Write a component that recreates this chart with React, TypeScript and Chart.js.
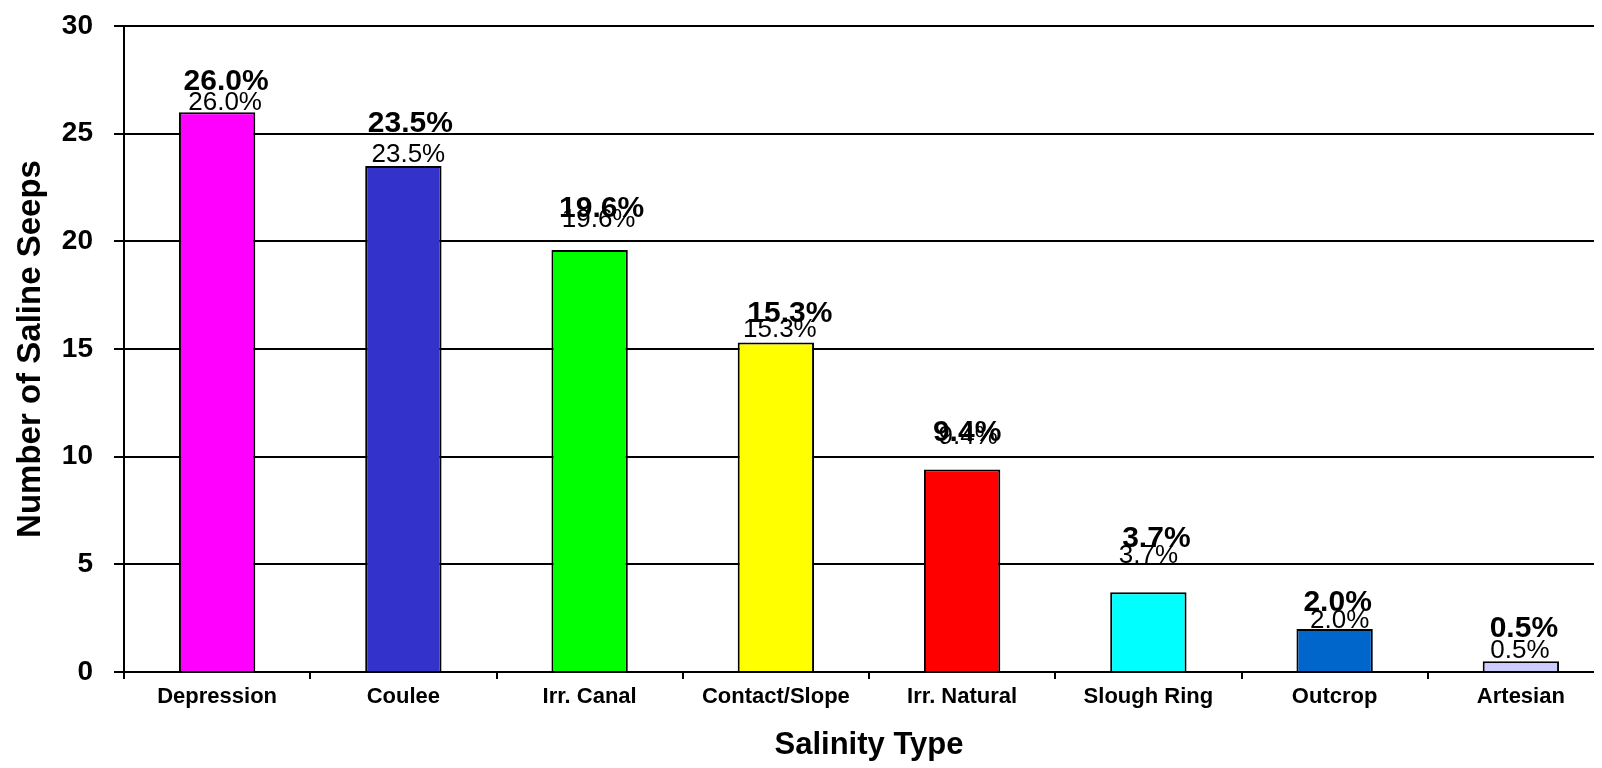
import React, { useEffect, useRef } from "react";
import { Chart, registerables } from "chart.js";

Chart.register(...registerables);

const categories = [
  "Depression",
  "Coulee",
  "Irr. Canal",
  "Contact/Slope",
  "Irr. Natural",
  "Slough Ring",
  "Outcrop",
  "Artesian",
];
const seepCounts = [26.0, 23.5, 19.6, 15.3, 9.4, 3.7, 2.0, 0.5];
const percentLabels = ["26.0%", "23.5%", "19.6%", "15.3%", "9.4%", "3.7%", "2.0%", "0.5%"];
const barColors = ["#FF00FF", "#3333CC", "#00FF00", "#FFFF00", "#FF0000", "#00FFFF", "#0066CC", "#CCCCFF"];
const yTicks = [0, 5, 10, 15, 20, 25, 30];

// label nudges (pixels, relative to bar top / bar centre) as placed in the original
const bigLabelRise = [22, 34, 33, 21, 29, 45, 18, 24];
const bigLabelShift = [9, 7, 12, 14, 5, 8, 3, 3];
const smallLabelRise = [2, 4, 23, 6, 26, 29, 1, 3];
const smallLabelShift = [8, 5, 9, 4, 6, 0, 5, -1];

const FONT = "'Liberation Sans', Arial, sans-serif";

const labelPlugin = {
  id: "doubleLabels",
  afterDatasetsDraw(chart: any) {
    const ctx = chart.ctx;
    const meta = chart.getDatasetMeta(0);
    ctx.save();
    ctx.fillStyle = "#000";
    ctx.textAlign = "center";
    ctx.textBaseline = "alphabetic";
    meta.data.forEach((bar: any, i: number) => {
      const x = bar.x;
      const y = bar.y;
      ctx.font = `26px ${FONT}`;
      ctx.fillText(percentLabels[i], x + smallLabelShift[i], y - smallLabelRise[i]);
      ctx.font = `bold 30px ${FONT}`;
      ctx.fillText(percentLabels[i], x + bigLabelShift[i], y - bigLabelRise[i]);
    });
    ctx.restore();
  },
};

export default function App() {
  const ref = useRef<HTMLCanvasElement | null>(null);

  useEffect(() => {
    if (!ref.current) return;
    const chart = new Chart(ref.current, {
      type: "bar",
      data: {
        labels: categories,
        datasets: [
          {
            data: seepCounts,
            backgroundColor: barColors,
            borderColor: "#000",
            borderWidth: 2,
            barPercentage: 0.82,
            categoryPercentage: 0.5,
          },
        ],
      },
      options: {
        responsive: false,
        animation: false,
        devicePixelRatio: 1,
        layout: { padding: { top: 0, right: 14, left: 0, bottom: 0 } },
        plugins: {
          legend: { display: false },
          tooltip: { enabled: false },
        },
        scales: {
          x: {
            grid: {
              display: true,
              drawOnChartArea: false,
              drawTicks: true,
              tickLength: 7,
              color: "#000",
              lineWidth: 2,
            },
            border: { display: true, color: "#000", width: 2 },
            ticks: {
              color: "#000",
              font: { family: FONT, size: 22, weight: "bold" },
              padding: 5,
              maxRotation: 0,
              minRotation: 0,
              autoSkip: false,
            },
            title: {
              display: true,
              text: "Salinity Type",
              color: "#000",
              font: { family: FONT, size: 31, weight: "bold" },
              padding: { top: 0, bottom: 4 },
            },
            afterFit: (scale: any) => {
              scale.height = 96;
            },
          },
          y: {
            min: 0,
            max: 30,
            afterBuildTicks: (scale: any) => {
              scale.ticks = yTicks.map((v) => ({ value: v }));
            },
            grid: {
              color: "#000",
              lineWidth: 2,
              drawTicks: true,
              tickLength: 10,
            },
            border: { display: true, color: "#000", width: 2 },
            ticks: {
              color: "#000",
              font: { family: FONT, size: 28, weight: "bold" },
              padding: 21,
            },
            title: {
              display: true,
              text: "Number of Saline Seeps",
              color: "#000",
              font: { family: FONT, size: 33, weight: "bold" },
              padding: { top: 3, bottom: 0 },
            },
            afterFit: (scale: any) => {
              scale.width = 116;
              scale.paddingTop = 18;
              scale.paddingBottom = 18;
            },
          },
        },
      },
      plugins: [labelPlugin],
    });
    return () => chart.destroy();
  }, []);

  return (
    <div style={{ width: 1594, height: 760, overflow: "hidden" }}>
      <canvas ref={ref} width={1620} height={760} style={{ display: "block" }} />
    </div>
  );
}
